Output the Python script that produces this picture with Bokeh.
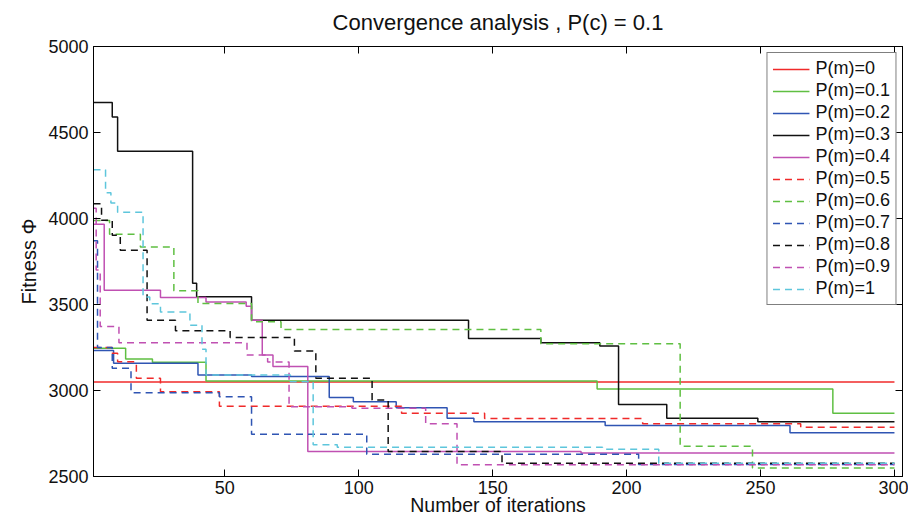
from bokeh.plotting import figure
from bokeh.models import LinearAxis, Range1d, FixedTicker
from bokeh.embed import file_html
from bokeh.resources import INLINE

# ---- data (iteration where a level starts, fitness level) ----
labels = ["P(m)=0", "P(m)=0.1", "P(m)=0.2", "P(m)=0.3", "P(m)=0.4", "P(m)=0.5",
          "P(m)=0.6", "P(m)=0.7", "P(m)=0.8", "P(m)=0.9", "P(m)=1"]

it_pm00 = [1, 300]
fit_pm00 = [3050, 3050]

it_pm01 = [1, 13, 23, 43, 189, 277, 300]
fit_pm01 = [3245, 3183, 3164, 3055, 3009, 2868, 2868]

it_pm02 = [1, 8.5, 40, 60, 89, 98, 114, 133, 143, 192, 261, 300]
fit_pm02 = [3232, 3158, 3090, 3082, 2960, 2935, 2900, 2839, 2819, 2796, 2755, 2755]

it_pm03 = [1, 8, 10, 38, 39.5, 60, 141, 168, 190, 197, 215, 249, 300]
fit_pm03 = [4675, 4590, 4391, 3623, 3545, 3409, 3303, 3277, 3258, 2918, 2839, 2819, 2819]

it_pm04 = [1, 5, 26, 43, 58, 60, 64, 68, 81, 183, 300]
fit_pm04 = [3966, 3583, 3541, 3515, 3490, 3409, 3206, 3140, 2645, 2636, 2636]

it_pm05 = [1, 8, 10, 17, 26, 48, 116, 147, 206, 265, 300]
fit_pm05 = [3250, 3216, 3167, 3071, 2993, 2908, 2868, 2837, 2806, 2786, 2786]

it_pm06 = [1, 7, 18.5, 31, 40, 60, 71, 168, 220, 247, 300]
fit_pm06 = [3989, 3908, 3834, 3580, 3506, 3399, 3355, 3272, 2676, 2549, 2549]

it_pm07 = [1, 2.5, 8, 15, 48, 60, 103, 204.5, 300]
fit_pm07 = [3870, 3250, 3129, 2987, 2964, 2745, 2629, 2570, 2570]

it_pm08 = [1, 4, 8, 11, 21, 31.6, 52, 76, 84, 105, 111, 153.5, 300]
fit_pm08 = [4086, 3990, 3902, 3815, 3409, 3347, 3308, 3230, 3071, 2945, 2645, 2577, 2577]

it_pm09 = [1, 2, 3.5, 10.5, 58.3, 66, 74, 97.5, 125, 136.7, 300]
fit_pm09 = [4060, 3700, 3372, 3278, 3206, 3165, 2906, 2897, 2806, 2568, 2568]

it_pm10 = [1, 5.5, 7.5, 10, 19.5, 22, 26, 37, 41.5, 43, 74.5, 83, 92, 191, 212, 300]
fit_pm10 = [4283, 4150, 4090, 4037, 3544, 3505, 3457, 3380, 3240, 3090, 3051, 2684, 2670, 2659, 2577, 2577]

x_ticks = [50, 100, 150, 200, 250, 300]
y_ticks = [2500, 3000, 3500, 4000, 4500, 5000]

series = [
    (it_pm00, fit_pm00, "#f02a2a", "solid"),
    (it_pm01, fit_pm01, "#5fbf42", "solid"),
    (it_pm02, fit_pm02, "#2f55b3", "solid"),
    (it_pm03, fit_pm03, "#111111", "solid"),
    (it_pm04, fit_pm04, "#c050b2", "solid"),
    (it_pm05, fit_pm05, "#f02a2a", "7 5"),
    (it_pm06, fit_pm06, "#5fbf42", "7 5"),
    (it_pm07, fit_pm07, "#2f55b3", "7 5"),
    (it_pm08, fit_pm08, "#111111", "7 5"),
    (it_pm09, fit_pm09, "#c050b2", "7 5"),
    (it_pm10, fit_pm10, "#5ec6dc", "7 5"),
]

FONT = "Liberation Sans"

p = figure(width=908, height=518, output_backend="svg", toolbar_location=None,
           x_range=Range1d(1, 303), y_range=Range1d(2500, 5000),
           min_border_left=93, min_border_right=6, min_border_top=46, min_border_bottom=41)

p.title.text = "Convergence analysis , P(c) = 0.1"
p.title.align = "center"
p.title.vertical_align = "top"
p.title.text_font = FONT
p.title.text_font_size = "22px"
p.title.text_font_style = "normal"
p.title.text_color = "#111111"
p.title.standoff = 19

p.xgrid.visible = False
p.ygrid.visible = False
p.outline_line_color = "black"
p.background_fill_color = "white"
p.border_fill_color = "white"

for (x, y, c, d), lab in zip(series, labels):
    p.step(x, y, mode="after", line_color=c, line_width=1.5, line_dash=d, legend_label=lab)

def style_axis(ax, ticks, show_labels):
    ax.ticker = FixedTicker(ticks=ticks)
    ax.major_tick_in = 7
    ax.major_tick_out = 0
    ax.minor_tick_line_color = None
    ax.axis_line_color = "black"
    ax.major_tick_line_color = "black"
    ax.major_label_text_font = FONT
    ax.axis_label_text_font = FONT
    ax.axis_label_text_font_style = "normal"
    ax.axis_label_text_color = "#111111"
    if show_labels:
        ax.major_label_text_font_size = "18px"
        ax.major_label_text_color = "#111111"
    else:
        ax.major_label_text_font_size = "1px"
        ax.major_label_text_color = None
        ax.major_label_standoff = 0

xa = p.xaxis[0]
style_axis(xa, x_ticks, True)
xa.axis_label = "Number of iterations"
xa.axis_label_text_font_size = "19.5px"
xa.major_label_standoff = 4
xa.axis_label_standoff = -3

ya = p.yaxis[0]
style_axis(ya, y_ticks, True)
ya.axis_label = "Fitness Φ"
ya.axis_label_text_font_size = "20px"
ya.major_label_standoff = 5
ya.axis_label_standoff = 5

top = LinearAxis()
style_axis(top, x_ticks, False)
p.add_layout(top, "above")
right = LinearAxis()
style_axis(right, y_ticks, False)
p.add_layout(right, "right")

lg = p.legend[0]
lg.location = "top_right"
lg.margin = 6
lg.padding = 5
lg.spacing = 1
lg.glyph_width = 37
lg.glyph_height = 20
lg.label_height = 20
lg.label_standoff = 6
lg.label_text_font = FONT
lg.label_text_font_size = "18px"
lg.label_text_color = "#111111"
lg.border_line_color = "black"
lg.border_line_width = 1
lg.background_fill_alpha = 1

open("out.html", "w").write(file_html(p, INLINE))
